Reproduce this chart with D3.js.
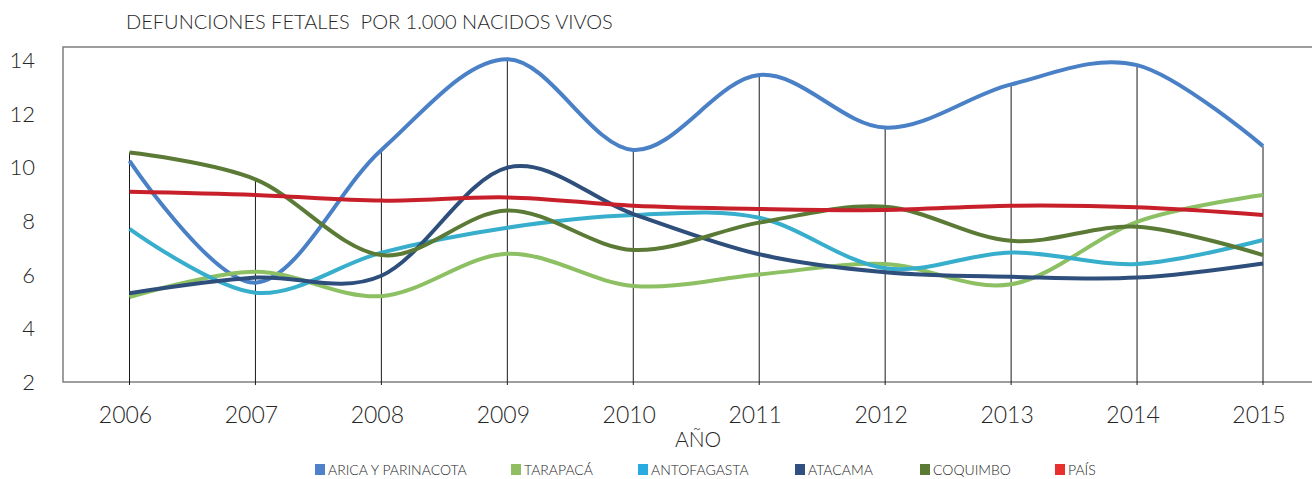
<!DOCTYPE html>
<html>
<head>
<meta charset="utf-8">
<script src="https://cdn.jsdelivr.net/npm/d3@7/dist/d3.min.js"></script>
<style>
  html, body { margin: 0; padding: 0; background: #fff; overflow: hidden; }
  svg { display: block; }
  text { font-family: Lato, "Noto Sans", sans-serif; font-weight: 300; fill: #262626; white-space: pre; }
</style>
</head>
<body>
<svg id="chart" width="1312" height="479"></svg>
<script>
// Fetal deaths per 1,000 live births, 2006–2015
const years = [2006, 2007, 2008, 2009, 2010, 2011, 2012, 2013, 2014, 2015];
const aricaParinacota = [10.24, 5.7, 10.65, 14.03, 10.65, 13.44, 11.48, 13.09, 13.81, 10.79];
const tarapaca        = [5.16, 6.11, 5.2, 6.78, 5.58, 6.01, 6.4, 5.64, 7.97, 8.97];
const antofagasta     = [7.71, 5.33, 6.82, 7.75, 8.22, 8.12, 6.24, 6.83, 6.4, 7.29];
const atacama         = [5.31, 5.89, 5.96, 9.99, 8.26, 6.76, 6.09, 5.92, 5.89, 6.42];
const coquimbo        = [10.55, 9.55, 6.73, 8.39, 6.92, 7.94, 8.53, 7.26, 7.79, 6.73];
const pais            = [9.09, 8.97, 8.76, 8.88, 8.57, 8.45, 8.41, 8.57, 8.51, 8.22];
const yTicks = [2, 4, 6, 8, 10, 12, 14];

const seriesNames  = ["ARICA Y PARINACOTA", "TARAPACÁ", "ANTOFAGASTA", "ATACAMA", "COQUIMBO", "PAÍS"];
const seriesValues = [aricaParinacota, tarapaca, antofagasta, atacama, coquimbo, pais];
const lineColors   = ["#4a80c6", "#8cc063", "#37aecb", "#2e4f7c", "#5b7a36", "#c8202a"];
const swatchColors = ["#4f81c8", "#8fbf62", "#29abe2", "#2f5080", "#5a7a35", "#e8302f"];

const svg = d3.select("#chart");

const frame = { left: 63, top: 47, bottom: 382, right: 1330 };
const x = d3.scalePoint().domain(years).range([129.5, 1263]);
const y = d3.scaleLinear().domain([2, 14]).range([382, 60]);

// Title
svg.append("text")
  .attr("x", 126).attr("y", 29)
  .attr("font-size", 20)
  .text("DEFUNCIONES FETALES  POR 1.000 NACIDOS VIVOS");

// Plot frame
svg.append("rect")
  .attr("x", frame.left).attr("y", frame.top)
  .attr("width", frame.right - frame.left).attr("height", frame.bottom - frame.top)
  .attr("fill", "none").attr("stroke", "#7f7f7f").attr("stroke-width", 1.5);

// Y axis labels
svg.append("g").selectAll("text").data(yTicks).join("text")
  .attr("x", 35).attr("y", d => y(d))
  .attr("dy", "0.36em")
  .attr("text-anchor", "end")
  .attr("font-size", 22)
  .text(d => d);

// Drop lines from the highest value in each year down through the axis
const maxByYear = years.map((yr, i) => d3.max(seriesValues, s => s[i]));
svg.append("g").selectAll("line").data(years).join("line")
  .attr("x1", d => x(d)).attr("x2", d => x(d))
  .attr("y1", (d, i) => y(maxByYear[i]))
  .attr("y2", frame.bottom + 3)
  .attr("stroke", "#1a1a1a").attr("stroke-width", 1);

// X axis labels
svg.append("g").selectAll("text").data(years).join("text")
  .attr("x", d => x(d) - 4).attr("y", 423)
  .attr("text-anchor", "middle")
  .attr("font-size", 23)
  .text(d => d);

svg.append("text")
  .attr("x", 698).attr("y", 447)
  .attr("text-anchor", "middle")
  .attr("font-size", 21)
  .text("AÑO");

// Smoothed series lines
const line = d3.line()
  .x((d, i) => x(years[i]))
  .y(d => y(d))
  .curve(d3.curveCardinal.tension(0));

svg.append("g").selectAll("path").data(seriesValues).join("path")
  .attr("d", d => line(d))
  .attr("fill", "none")
  .attr("stroke", (d, i) => lineColors[i])
  .attr("stroke-width", 4)
  .attr("stroke-linejoin", "round");

// Legend
const legendX = [315, 511, 638, 795, 920, 1055];
const legend = svg.append("g").selectAll("g").data(seriesNames).join("g")
  .attr("transform", (d, i) => `translate(${legendX[i]},464)`);
legend.append("rect")
  .attr("width", 10).attr("height", 11)
  .attr("fill", (d, i) => swatchColors[i]);
legend.append("text")
  .attr("x", 13).attr("y", 11)
  .attr("font-size", 14)
  .text(d => d);
</script>
</body>
</html>
